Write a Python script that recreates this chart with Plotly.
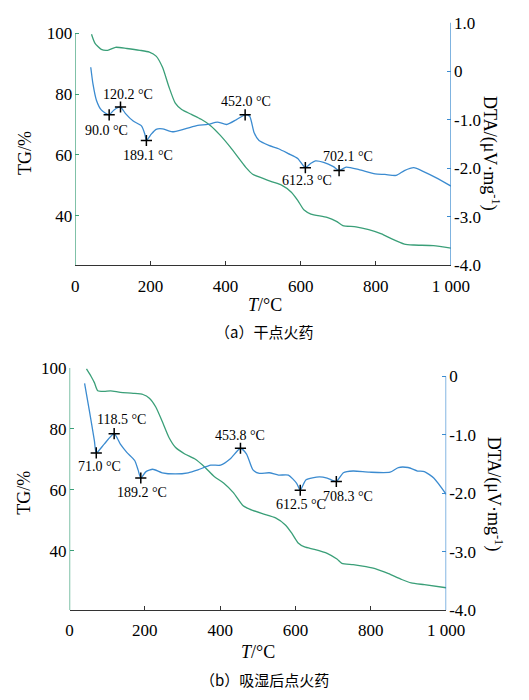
import plotly.graph_objects as go

# ---------------- data: (a) dry ignition powder ----------------
tg_a_T = [43, 52, 69, 86, 107, 137, 172, 197, 215, 232, 249, 266, 283, 309, 335, 360, 386, 412, 438,
          455, 472, 498, 524, 549, 575, 592, 609, 627, 670, 695, 712, 747, 781, 815, 841, 876, 901, 953, 1000]
tg_a_v = [99.7, 96.8, 94.7, 94.4, 95.4, 95.0, 94.4, 93.8, 92.5, 88.8, 82.4, 77.0, 74.9, 73.3, 71.7, 69.6, 66.4,
          62.6, 58.4, 55.7, 53.6, 52.3, 51.1, 50.0, 47.7, 45.0, 41.8, 40.5, 39.4, 38.1, 36.7, 36.3, 35.4, 34.0,
          32.4, 30.6, 30.3, 30.1, 29.3]
dta_a_T = [41, 47, 56, 69, 90, 103, 120.2, 133, 154, 176, 185, 189.1, 202, 215, 232, 258, 292, 326, 352, 378,
           403, 429, 452, 464, 476, 489, 515, 541, 567, 592, 612.3, 627, 639, 661, 687, 702.1, 721, 755, 798,
           824, 854, 876, 901, 927, 961, 1000]
dta_a_v = [0.08, -0.27, -0.6, -0.8, -0.9, -0.8, -0.74, -0.87, -1.03, -1.13, -1.3, -1.43, -1.3, -1.2, -1.19,
           -1.25, -1.19, -1.12, -1.1, -1.05, -1.1, -1.0, -0.9, -0.93, -1.27, -1.43, -1.53, -1.6, -1.7, -1.8,
           -1.99, -1.9, -1.85, -1.88, -1.97, -2.05, -1.98, -2.03, -2.12, -2.13, -2.15, -2.05, -1.99, -2.07,
           -2.2, -2.37]
pk_a_T = [90.0, 120.2, 189.1, 452.0, 612.3, 702.1]
pk_a_v = [-0.9, -0.74, -1.43, -0.9, -1.99, -2.05]
pk_a_lbl = ["90.0 °C", "120.2 °C", "189.1 °C", "452.0 °C", "612.3 °C", "702.1 °C"]

# ---------------- data: (b) ignition powder after moisture absorption ----------------
tg_b_T = [45, 57, 66, 75, 92, 109, 135, 169, 195, 212, 229, 246, 264, 281, 306, 332, 358, 384, 409, 435, 461,
          478, 512, 547, 573, 590, 607, 624, 650, 684, 710, 723, 753, 787, 813, 847, 882, 907, 942, 1000]
tg_b_v = [99.7, 97.3, 95.2, 92.5, 92.3, 92.5, 92.0, 91.7, 91.3, 90.1, 87.2, 82.5, 77.2, 74.0, 71.8, 70.2, 67.6,
          64.4, 62.3, 59.1, 54.8, 53.7, 52.2, 50.8, 48.5, 45.8, 42.6, 41.3, 40.5, 39.2, 37.3, 35.9, 35.5, 34.8,
          34.1, 32.5, 30.6, 29.5, 28.9, 27.9]
dta_b_T = [40, 53, 66, 71.0, 92, 118.5, 135, 152, 173, 182, 189.2, 203, 221, 246, 281, 315, 341, 375, 401, 427,
           453.8, 470, 487, 504, 530, 555, 581, 603, 612.5, 628, 663, 684, 708.3, 727, 753, 796, 851, 873, 899,
           924, 942, 967, 1000]
dta_b_v = [-0.12, -0.6, -1.1, -1.31, -1.16, -0.98, -1.16, -1.3, -1.44, -1.6, -1.74, -1.63, -1.59, -1.65, -1.67,
           -1.65, -1.6, -1.52, -1.52, -1.41, -1.23, -1.33, -1.6, -1.66, -1.65, -1.69, -1.69, -1.83, -1.95, -1.77,
           -1.72, -1.74, -1.8, -1.65, -1.62, -1.64, -1.64, -1.56, -1.56, -1.62, -1.63, -1.74, -2.02]
pk_b_T = [71.0, 118.5, 189.2, 453.8, 612.5, 708.3]
pk_b_v = [-1.31, -0.98, -1.74, -1.23, -1.95, -1.8]
pk_b_lbl = ["71.0 °C", "118.5 °C", "189.2 °C", "453.8 °C", "612.5 °C", "708.3 °C"]

x_ticks = [0, 200, 400, 600, 800, 1000]
x_ticktext = ["0", "200", "400", "600", "800", "1 000"]
tg_ticks = [40, 60, 80, 100]
dta_a_ticks = [-4, -3, -2, -1, 0, 1]
dta_a_text = ["-4.0", "-3.0", "-2.0", "-1.0", "0", "1.0"]
dta_b_ticks = [-4, -3, -2, -1, 0]
dta_b_text = ["-4.0", "-3.0", "-2.0", "-1.0", "0"]

# label offsets in pixels (xshift, yshift) for each peak
off_a = [(-3, -16), (7, 13), (2, -15), (1, 13), (2, -13), (9, 14)]
off_b = [(3, -14), (7, 14), (1, -14), (0, 13), (1, -14), (12, -15)]

GREEN = "#3a9f78"
BLUE = "#3b8bd0"
AXC = "#333333"
SERIF = "Liberation Serif, Times New Roman, serif"
CJK = "Noto Sans CJK SC"

fig = go.Figure()

def add_panel(xa, ya, ya2, tgT, tgV, dT, dV, pT, pV):
    fig.add_trace(go.Scatter(x=tgT, y=tgV, mode="lines", line=dict(color=GREEN, width=1.3, shape="spline", smoothing=0.6),
                             xaxis=xa, yaxis=ya, showlegend=False, hoverinfo="skip"))
    fig.add_trace(go.Scatter(x=dT, y=dV, mode="lines", line=dict(color=BLUE, width=1.3, shape="spline", smoothing=0.6),
                             xaxis=xa, yaxis=ya2, showlegend=False, hoverinfo="skip"))
    fig.add_trace(go.Scatter(x=pT, y=pV, mode="markers",
                             marker=dict(symbol="cross-thin", size=8, line=dict(color="black", width=1.5)),
                             xaxis=xa, yaxis=ya2, showlegend=False, hoverinfo="skip"))

add_panel("x", "y", "y2", tg_a_T, tg_a_v, dta_a_T, dta_a_v, pk_a_T, pk_a_v)
add_panel("x2", "y3", "y4", tg_b_T, tg_b_v, dta_b_T, dta_b_v, pk_b_T, pk_b_v)

tickfont = dict(family=SERIF, size=17, color="black")

def xax(domain, anchor):
    return dict(domain=domain, anchor=anchor, range=[0, 1000], tickvals=x_ticks, ticktext=x_ticktext,
                ticks="inside", ticklen=4, tickcolor=AXC, showline=True, linecolor=AXC, linewidth=1.2,
                showgrid=False, zeroline=False, tickfont=tickfont, fixedrange=True, ticklabelstandoff=5)

def yax_left(domain, anchor, rng):
    return dict(domain=domain, anchor=anchor, range=rng, tickvals=tg_ticks, ticks="inside", ticklen=4,
                tickcolor=GREEN, showline=False, showgrid=False, zeroline=False, tickfont=tickfont,
                ticklabelstandoff=2)

def yax_right(over, anchor, rng, tv, tt):
    return dict(overlaying=over, anchor=anchor, side="right", range=rng, tickvals=tv, ticktext=tt,
                ticks="inside", ticklen=4, tickcolor=BLUE, showline=False, showgrid=False, zeroline=False,
                tickfont=tickfont, ticklabelstandoff=2)

dom_xa = [74.6 / 529, 467.3 / 529]
dom_ya = [1 - 263.3 / 700, 1 - 14 / 700]
dom_xb = [68.5 / 529, 462.3 / 529]
dom_yb = [1 - 617.7 / 700, 1 - 369 / 700]

rng_tg_a = [23.67, 103.52]
rng_dta_a = [-4.0, 1.0]
rng_tg_b = [20.62, 100.0]
rng_dta_b = [-4.0, 0.145]

fig.update_layout(
    width=529, height=700, margin=dict(l=0, r=0, t=0, b=0),
    paper_bgcolor="white", plot_bgcolor="white",
    xaxis=xax(dom_xa, "y"),
    yaxis=yax_left(dom_ya, "x", rng_tg_a),
    yaxis2=yax_right("y", "x", rng_dta_a, dta_a_ticks, dta_a_text),
    xaxis2=xax(dom_xb, "y3"),
    yaxis3=yax_left(dom_yb, "x2", rng_tg_b),
    yaxis4=yax_right("y3", "x2", rng_dta_b, dta_b_ticks, dta_b_text),
)

shapes = [
    dict(type="line", xref="x", yref="y", x0=0, x1=0, y0=rng_tg_a[0], y1=100, line=dict(color=GREEN, width=1.3)),
    dict(type="line", xref="x", yref="y2", x0=1000, x1=1000, y0=rng_dta_a[0], y1=1.0, line=dict(color=BLUE, width=1.3)),
    dict(type="line", xref="x2", yref="y3", x0=0, x1=0, y0=rng_tg_b[0], y1=100, line=dict(color=GREEN, width=1.3)),
    dict(type="line", xref="x2", yref="y4", x0=1000, x1=1000, y0=rng_dta_b[0], y1=0, line=dict(color=BLUE, width=1.3)),
]
fig.update_layout(shapes=shapes)

ann = []
for T, v, t, (dx, dy) in zip(pk_a_T, pk_a_v, pk_a_lbl, off_a):
    ann.append(dict(x=T, y=v, xref="x", yref="y2", text=t, showarrow=False, xshift=dx, yshift=dy,
                    font=dict(family=SERIF, size=14, color="black")))
for T, v, t, (dx, dy) in zip(pk_b_T, pk_b_v, pk_b_lbl, off_b):
    ann.append(dict(x=T, y=v, xref="x2", yref="y4", text=t, showarrow=False, xshift=dx, yshift=dy,
                    font=dict(family=SERIF, size=14, color="black")))

def ptitle(x, y, text, angle=0, size=18, family=SERIF):
    return dict(x=x / 529, y=1 - y / 700, xref="paper", yref="paper", text=text, showarrow=False,
                textangle=angle, font=dict(family=family, size=size, color="black"),
                xanchor="center", yanchor="middle")

ann += [
    ptitle(22, 148, "TG/%", -90),
    ptitle(509, 149, "DTA/(μV·mg<sup>-1</sup>)", 90),
    ptitle(273, 304, "<i>T</i>/°C"),
    ptitle(272, 332, "（a）干点火药", size=15, family=CJK),
    ptitle(20, 497, "TG/%", -90),
    ptitle(512, 499, "DTA/(μV·mg<sup>-1</sup>)", 90),
    ptitle(266, 661, "<i>T</i>/°C"),
    ptitle(272, 689, "（b）吸湿后点火药", size=15, family=CJK),
]
fig.update_layout(annotations=ann)

fig.write_html("out.html")
